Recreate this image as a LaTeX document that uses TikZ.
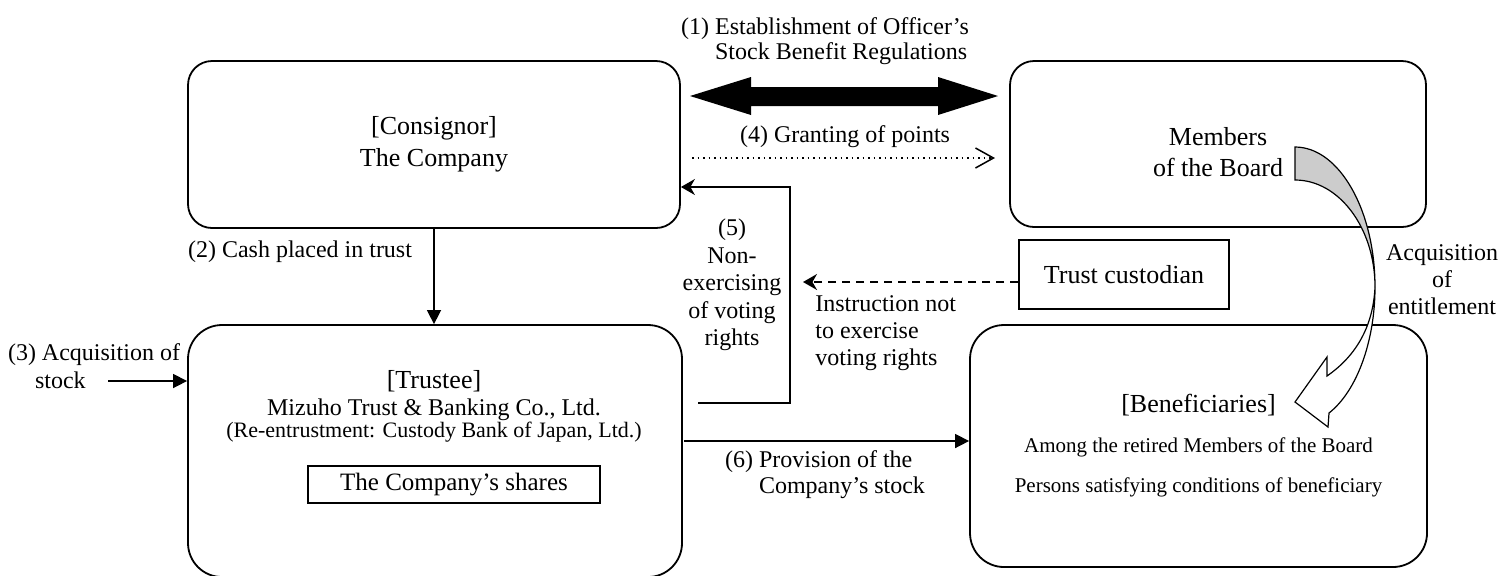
\documentclass[tikz,border=0pt]{standalone}
\usepackage{fontspec}
\setmainfont{Liberation Serif}
\usetikzlibrary{arrows.meta}

\tikzset{
  bigbox/.style={draw, line width=0.9pt, rounded corners=12pt},
  widebox/.style={draw, line width=0.9pt, rounded corners=17pt},
  plainbox/.style={draw, line width=0.9pt, inner sep=0pt},
  flow/.style={line width=0.75pt, -{Triangle[length=7pt,width=7pt]}},
  back/.style={line width=0.75pt, -{Stealth[length=7pt,width=8pt]}},
  lbl/.style={inner sep=0pt, font=\fontsize{12}{13.5}\selectfont},
}

\begin{document}
\begin{tikzpicture}[x=0.5pt, y=-0.5pt]
\useasboundingbox (0,0) rectangle (1502,575);

% boxes
\node[bigbox, minimum width=246pt, minimum height=83.5pt, align=center,
      font=\fontsize{13}{16}\selectfont] (consignor) at (434,144.5) {[Consignor]\\The Company};
\node[bigbox, minimum width=208pt, minimum height=83pt,
      label={[align=center, yshift=-4pt, font=\fontsize{13}{15.5}\selectfont]center:Members\\of the Board}] (board) at (1218,144) {};
\node[widebox, minimum width=247pt, minimum height=126pt] (trustee) at (435,451) {};
\node[align=center, inner sep=0pt, font=\fontsize{12}{13.5}\selectfont] (trusteetxt) at (434,406)
      {{\fontsize{13}{13.5}\selectfont [Trustee]}\\Mizuho Trust \& Banking Co., Ltd.\\[-2.5pt]
       {\fontsize{11}{13}\selectfont (Re-entrustment: Custody Bank of Japan, Ltd.)}};
\node[plainbox, minimum width=146pt, minimum height=18.5pt,
      font=\fontsize{12.5}{14}\selectfont] (shares) at (454,484.5) {The Company's shares};
\node[widebox, minimum width=228.5pt, minimum height=121pt, align=center,
      font=\fontsize{10.5}{13}\selectfont] (benef) at (1198.5,446)
      {{\fontsize{13}{13}\selectfont [Beneficiaries]}\\[7pt]Among the retired Members of the Board\\[7pt]
       Persons satisfying conditions of beneficiary};
\node[plainbox, minimum width=105pt, minimum height=34.5pt,
      font=\fontsize{13}{15}\selectfont] (custodian) at (1124,274.5) {Trust custodian};

% (1)
\node[lbl, align=left, font=\fontsize{12}{12.5}\selectfont] (l1) at (825,41)
      {(1) Establishment of Officer's\\\phantom{(1)}\ Stock Benefit Regulations};
\fill (690,96) -- (751,77) -- (751,87) -- (938,87) -- (938,77) -- (998,96)
      -- (938,115) -- (938,106) -- (751,106) -- (751,115) -- cycle;

% (4)
\node[lbl] (l4) at (845,137) {(4) Granting of points};
\coordinate (gp1) at (692,158);
\coordinate (gp2) at (995,158);
\draw[dotted, line width=0.75pt, -{Straight Barb[length=9pt,width=10pt]}] (gp1) -- (gp2);

% (2)
\node[lbl] (l2) at (300,252) {(2) Cash placed in trust};
\draw[flow] (consignor.south) -- (consignor.south |- trustee.north);

% (3)
\node[lbl, align=left, font=\fontsize{12}{14}\selectfont] (l3) at (94,366)
      {(3) Acquisition of\\\hspace{13.5pt}stock};
\coordinate (acq) at (108,381);
\draw[flow] (acq) -- (acq -| trustee.west);

% (5)
\node[lbl, align=center, font=\fontsize{12}{13.75}\selectfont] (l5) at (732,285)
      {(5)\\Non-\\exercising\\of voting\\rights};
\coordinate (nvs) at (698,403);
\coordinate (nvc) at (790,187);
\draw[back] (nvs) -| (nvc) -- (nvc -| consignor.east);

% instruction
\node[lbl, align=left, anchor=west] (instr txt) at (815,333)
      {Instruction not\\to exercise\\voting rights};
\coordinate (instr) at (803,282);
\draw[back, dash pattern=on 4pt off 3pt] (instr -| custodian.west) -- (instr);

% (6)
\node[lbl, align=left, font=\fontsize{12}{13}\selectfont] (l6) at (825,475)
      {(6) Provision of the\\\phantom{(6)}\ Company's stock};
\coordinate (prov) at (684,441);
\draw[flow] (prov) -- (prov -| benef.west);

% acquisition of entitlement
\node[lbl, align=center] (ent) at (1442,280) {Acquisition\\of\\entitlement};
\filldraw[fill=black!20, line width=0.6pt] (1295,147) .. controls (1339,147) and (1375,210) .. (1375,287)
      .. controls (1375,228) and (1339,180) .. (1295,180) -- cycle;
\filldraw[fill=white, line width=0.6pt] (1375,287) .. controls (1375,341) and (1357,391) .. (1329,413)
      -- (1328,427) -- (1295,402) -- (1327,357) -- (1327,376)
      .. controls (1353,358) and (1373,330) .. (1375,287) -- cycle;

\end{tikzpicture}
\end{document}
